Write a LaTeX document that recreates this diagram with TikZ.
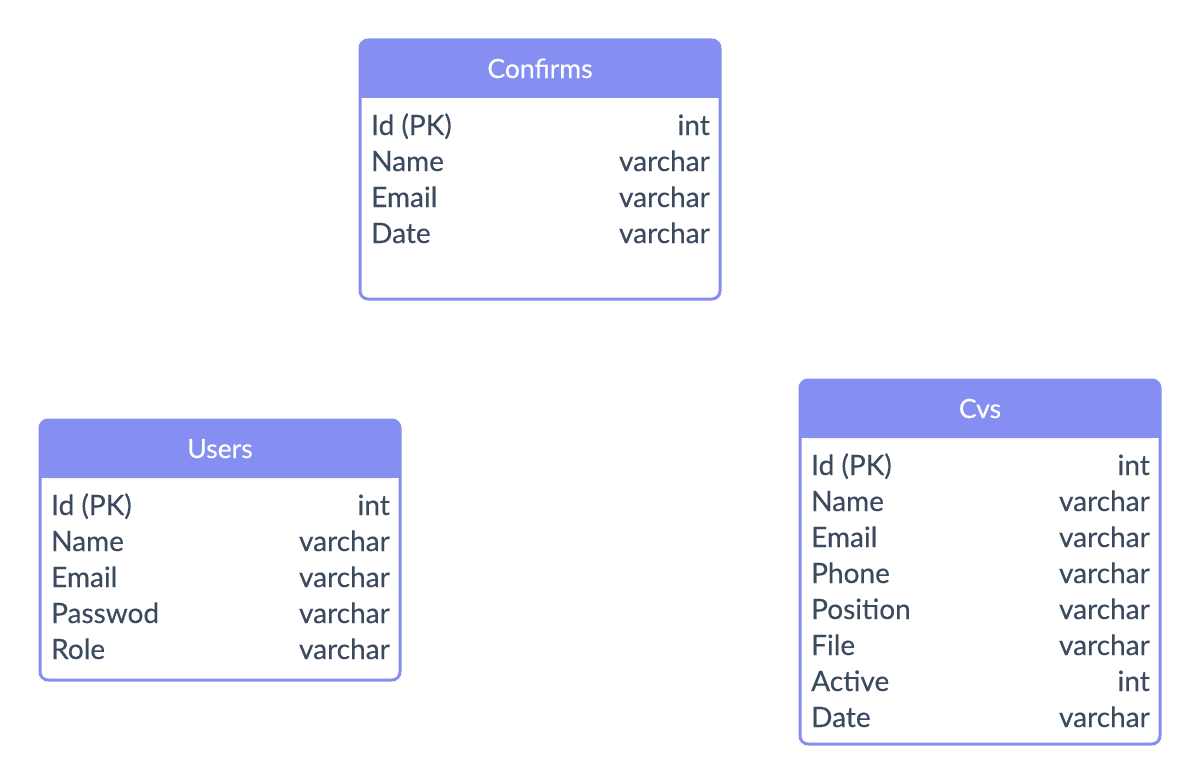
\documentclass[tikz,border=0pt]{standalone}
\usepackage{fontspec}
\setmainfont{Lato}
\newfontfamily\fieldfont[FakeBold=0.25]{Lato}
\newfontfamily\headfont[FakeBold=0.4]{Lato}
\usepackage{tikz}
\usetikzlibrary{positioning}
\definecolor{headblue}{HTML}{848FF1}
\definecolor{fieldtext}{HTML}{3B4A5F}
\tikzset{
	tblhead/.style={text=white, font=\headfont\fontsize{26.5}{30}\selectfont, anchor=base, inner sep=0pt},
	fkey/.style={text=fieldtext, font=\fieldfont\fontsize{28}{32}\selectfont, anchor=base west, inner sep=0pt},
	ftype/.style={text=fieldtext, font=\fieldfont\fontsize{28}{32}\selectfont, anchor=base east, inner sep=0pt},
	tblframe/.style={draw=headblue, line width=3pt, rounded corners=8pt}
}

\begin{document}
\begin{tikzpicture}[x=1pt, y=-1pt]
	
	\useasboundingbox (0,0) rectangle (1200,784);
	\def\tblw{360}
	
	%//Confirms
	\def\xstep{360}
	\def\ystep{40}
	
	\fill[headblue, rounded corners=8pt] (\xstep,\ystep) rectangle ++(\tblw,58);
	\fill[headblue] (\xstep,\ystep+30) rectangle ++(\tblw,28);
	\draw[tblframe] (\xstep,\ystep) rectangle ++(\tblw,259);
	\node[tblhead] (conf-head) at (\xstep+180, \ystep+38) {Confirms};
	
	\foreach \i/\k/\t in {0/Id (PK)/int, 1/Name/varchar, 2/Email/varchar, 3/Date/varchar}
	{
	\node[fkey] (conf-key\i) at (\xstep+11, \ystep+95+36*\i) {\k};
	\node[ftype] (conf-type\i) at (\xstep+\tblw-10, \ystep+95+36*\i) {\t};
	}
	
	%//Users
	\def\xstep{40}
	\def\ystep{420}
	
	\fill[headblue, rounded corners=8pt] (\xstep,\ystep) rectangle ++(\tblw,58);
	\fill[headblue] (\xstep,\ystep+30) rectangle ++(\tblw,28);
	\draw[tblframe] (\xstep,\ystep) rectangle ++(\tblw,260);
	\node[tblhead] (user-head) at (\xstep+180, \ystep+38) {Users};
	
	\foreach \i/\k/\t in {0/Id (PK)/int, 1/Name/varchar, 2/Email/varchar, 3/Passwod/varchar, 4/Role/varchar}
	{
	\node[fkey] (user-key\i) at (\xstep+11, \ystep+95+36*\i) {\k};
	\node[ftype] (user-type\i) at (\xstep+\tblw-10, \ystep+95+36*\i) {\t};
	}
	
	%//Cvs
	\def\xstep{800}
	\def\ystep{380}
	
	\fill[headblue, rounded corners=8pt] (\xstep,\ystep) rectangle ++(\tblw,58);
	\fill[headblue] (\xstep,\ystep+30) rectangle ++(\tblw,28);
	\draw[tblframe] (\xstep,\ystep) rectangle ++(\tblw,364);
	\node[tblhead] (cvs-head) at (\xstep+180, \ystep+38) {Cvs};
	
	\foreach \i/\k/\t in {0/Id (PK)/int, 1/Name/varchar, 2/Email/varchar, 3/Phone/varchar, 4/Position/varchar, 5/File/varchar, 6/Active/int, 7/Date/varchar}
	{
	\node[fkey] (cvs-key\i) at (\xstep+11, \ystep+95+36*\i) {\k};
	\node[ftype] (cvs-type\i) at (\xstep+\tblw-10, \ystep+95+36*\i) {\t};
	}
	
\end{tikzpicture}
\end{document}
